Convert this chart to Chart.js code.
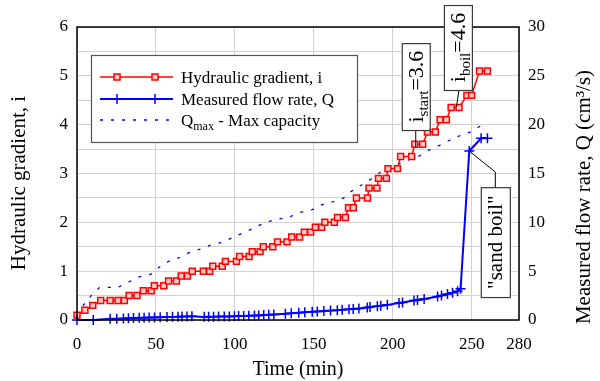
<!DOCTYPE html>
<html><head><meta charset="utf-8">
<script src="https://cdn.jsdelivr.net/npm/chart.js@4/dist/chart.umd.min.js"></script>
<style>html,body{margin:0;padding:0;background:#fff}#wrap{width:600px;height:381px;position:relative}</style>
</head><body><div id="wrap"><canvas id="c"></canvas></div>
<script>
// ---- data ----
const xTicks = [0, 50, 100, 150, 200, 250, 280];

const gradTime  = [0,5,10,15,21,26,30,33,38,42,47,49,55,58,63,66,70,73,80,84,86,92,94,101,103,109,111,116,118,124,127,133,136,141,144,148,151,155,157,163,165,170,172,175,177,184,185,190,191,196,197,203,205,212,214,219,222,227,230,234,237,242,247,250,255,260];
const gradValue = [0.1,0.2,0.3,0.4,0.4,0.4,0.4,0.5,0.5,0.6,0.6,0.7,0.7,0.8,0.8,0.9,0.9,1.0,1.0,1.0,1.1,1.1,1.2,1.2,1.3,1.3,1.4,1.4,1.5,1.5,1.6,1.6,1.7,1.7,1.8,1.8,1.9,1.9,2.0,2.0,2.1,2.1,2.3,2.3,2.5,2.5,2.7,2.7,2.9,2.9,3.1,3.1,3.35,3.35,3.6,3.6,3.85,3.85,4.1,4.1,4.35,4.35,4.6,4.6,5.1,5.1];

const flowTime  = [0,10.3,21,25.2,29.4,32.6,35.8,39.4,42.5,45.7,49.1,52.7,57,60.5,64,66.5,69.7,72.8,80.6,83.4,86.5,89.7,93.3,96.5,99.7,102.4,105.6,108.8,112.4,115.1,118.3,121.5,124.7,132,135.7,140.5,144.3,149,152.2,156.4,160.6,164.9,168,172.3,175,178.6,183.9,185.6,190.3,192.4,196.6,204,206.2,213.5,215.7,219.9,228.4,230.9,234.7,237.9,241.1,243,248.5,256,260];
const flowValue = [0,0,0.12,0.14,0.16,0.18,0.2,0.22,0.23,0.25,0.26,0.28,0.3,0.32,0.34,0.35,0.37,0.38,0.32,0.33,0.34,0.35,0.36,0.37,0.38,0.4,0.41,0.43,0.45,0.47,0.5,0.53,0.56,0.65,0.7,0.75,0.8,0.85,0.88,0.92,0.96,1.0,1.04,1.1,1.13,1.18,1.28,1.32,1.42,1.46,1.55,1.75,1.8,2.0,2.05,2.15,2.4,2.5,2.65,2.8,2.95,3.2,17.3,18.6,18.6];

const qmaxTime  = [0,3,9,14,18,26,33,39,47,52,58,65,71,79,85,92,98,105,112,118,126,134,141,149,155,162,169,174,180,186,191,197,204,210,217,223,230,236,243,250,258];
const qmaxValue = [0.5,1.3,2.5,3.3,3.35,3.35,3.9,4.4,4.7,5.4,6.0,6.4,6.9,7.3,7.7,7.95,8.4,8.9,9.4,9.9,10.3,10.5,11.0,11.3,11.8,12.1,12.5,13.2,13.8,14.4,15.0,15.5,16.0,16.4,16.8,17.4,17.9,18.4,18.9,19.3,20.1];

const seriesLabels = ['Hydraulic gradient, i', 'Measured flow rate, Q', 'Qmax - Max capacity'];

// ---- chart ----
const FONT = '"Liberation Serif","Times New Roman",serif';
const RED = '#ff0000', BLUE = '#0000ff';
const pts = (xs, ys) => xs.map((x, i) => ({x, y: ys[i]}));

function drawRich(ctx, parts, x, y, size, align) {
  const subSize = Math.round(size * 0.7);
  let w = 0;
  parts.forEach(p => { ctx.font = (p[1] ? subSize : size) + 'px ' + FONT; w += ctx.measureText(p[0]).width; });
  let cx = align === 'center' ? x - w / 2 : x;
  ctx.textAlign = 'left'; ctx.textBaseline = 'alphabetic';
  parts.forEach(p => {
    ctx.font = (p[1] ? subSize : size) + 'px ' + FONT;
    ctx.fillText(p[0], cx, p[1] ? y + size * 0.22 : y);
    cx += ctx.measureText(p[0]).width;
  });
}

function drawCross(ctx, x, y, r) {
  ctx.beginPath(); ctx.moveTo(x, y - r); ctx.lineTo(x, y + r); ctx.moveTo(x - r, y); ctx.lineTo(x + r, y); ctx.stroke();
}

function boxRect(ctx, x0, y0, x1, y1) {
  ctx.fillStyle = '#fff'; ctx.fillRect(x0, y0, x1 - x0, y1 - y0);
  ctx.strokeStyle = '#3a3a3a'; ctx.lineWidth = 1.2; ctx.strokeRect(x0 + 0.5, y0 + 0.5, x1 - x0, y1 - y0);
}

function rotatedRich(ctx, parts, cx, cy, size) {
  ctx.save(); ctx.translate(cx, cy); ctx.rotate(-Math.PI / 2);
  ctx.fillStyle = '#000';
  drawRich(ctx, parts, 0, size * 0.33, size, 'center');
  ctx.restore();
}

const overlay = {
  id: 'overlay',
  afterDraw(chart) {
    const ctx = chart.ctx, a = chart.chartArea;
    const xs = chart.scales.x, ys = chart.scales.y, y2 = chart.scales.y2;
    ctx.save();
    ctx.strokeStyle = '#000'; ctx.lineWidth = 1.5;
    ctx.strokeRect(a.left, a.top, a.right - a.left, a.bottom - a.top);

    // legend box
    const lx = a.left + 14, ly = a.top + 28, lw = 266, lh = 87;
    ctx.fillStyle = '#fff'; ctx.fillRect(lx, ly, lw, lh);
    ctx.strokeStyle = '#555'; ctx.lineWidth = 1.2; ctx.strokeRect(lx + 0.5, ly + 0.5, lw, lh);
    const rows = [ly + 22, ly + 44, ly + 65];
    const s0 = lx + 9, s1 = lx + 82, m0 = lx + 26, m1 = lx + 64, tx = lx + 90;
    ctx.strokeStyle = RED; ctx.lineWidth = 1.5;
    ctx.beginPath(); ctx.moveTo(s0, rows[0]); ctx.lineTo(s1, rows[0]); ctx.stroke();
    [m0, m1].forEach(m => { ctx.fillStyle = '#ffc8c8'; ctx.fillRect(m - 3, rows[0] - 3, 6, 6); ctx.strokeRect(m - 3, rows[0] - 3, 6, 6); });
    ctx.strokeStyle = BLUE; ctx.lineWidth = 2;
    ctx.beginPath(); ctx.moveTo(s0, rows[1]); ctx.lineTo(s1, rows[1]); ctx.stroke();
    ctx.lineWidth = 1.5; [m0, m1].forEach(m => drawCross(ctx, m, rows[1], 5));
    ctx.setLineDash([3, 8]); ctx.lineWidth = 1.3;
    ctx.beginPath(); ctx.moveTo(s0, rows[2]); ctx.lineTo(s1, rows[2]); ctx.stroke();
    ctx.setLineDash([]);
    ctx.fillStyle = '#000';
    drawRich(ctx, [[seriesLabels[0], false]], tx, rows[0] + 6, 17, 'left');
    drawRich(ctx, [[seriesLabels[1], false]], tx, rows[1] + 6, 17, 'left');
    drawRich(ctx, [['Q', false], ['max', true], [' - Max capacity', false]], tx, rows[2] + 6, 17, 'left');

    // i_start annotation
    const sx = xs.getPixelForValue(214.6);
    const sTop = ys.getPixelForValue(5.67), sBot = ys.getPixelForValue(3.89), sTip = ys.getPixelForValue(3.54);
    ctx.strokeStyle = '#000'; ctx.lineWidth = 1;
    ctx.beginPath(); ctx.moveTo(sx, sBot); ctx.lineTo(sx, sTip); ctx.stroke();
    boxRect(ctx, sx - 14, sTop, sx + 14, sBot);
    rotatedRich(ctx, [['i', false], ['start', true], ['=3.6', false]], sx, (sTop + sBot) / 2, 22);

    // i_boil annotation
    const bx = xs.getPixelForValue(241.3);
    const bTop = ys.getPixelForValue(6.45), bBot = ys.getPixelForValue(4.71);
    const tipX = xs.getPixelForValue(240.4), tipY = ys.getPixelForValue(4.36);
    ctx.strokeStyle = '#000'; ctx.lineWidth = 1;
    ctx.beginPath(); ctx.moveTo(bx + 1, bBot); ctx.lineTo(tipX, tipY); ctx.stroke();
    boxRect(ctx, bx - 14, bTop, bx + 14, bBot);
    rotatedRich(ctx, [['i', false], ['boil', true], ['=4.6', false]], bx, (bTop + bBot) / 2, 22);

    // "sand boil" annotation
    const qx = xs.getPixelForValue(265);
    const qTop = y2.getPixelForValue(13.6), qBot = y2.getPixelForValue(2.35), qElbow = y2.getPixelForValue(15.15);
    const px = xs.getPixelForValue(248.5), py = y2.getPixelForValue(17.3);
    ctx.strokeStyle = '#000'; ctx.lineWidth = 1;
    ctx.beginPath(); ctx.moveTo(qx, qTop); ctx.lineTo(qx, qElbow); ctx.lineTo(px, py); ctx.stroke();
    boxRect(ctx, qx - 14.5, qTop, qx + 14.5, qBot);
    rotatedRich(ctx, [['"sand boil"', false]], qx, (qTop + qBot) / 2, 21);

    // axis titles
    ctx.fillStyle = '#000';
    rotatedRich(ctx, [['Hydraulic gradient, i', false]], 18, 183, 21);
    rotatedRich(ctx, [['Measured flow rate, Q (cm³/s)', false]], 583, 197, 21);
    drawRich(ctx, [['Time (min)', false]], (a.left + a.right) / 2, 375, 20, 'center');
    ctx.restore();
  }
};

new Chart(document.getElementById('c'), {
  type: 'line',
  data: {
    datasets: [
      { label: seriesLabels[1], data: pts(flowTime, flowValue), yAxisID: 'y2',
        borderColor: BLUE, borderWidth: 2, pointStyle: 'cross', pointRadius: 5,
        pointBorderColor: BLUE, pointBorderWidth: 1.5, clip: false },
      { label: seriesLabels[0], data: pts(gradTime, gradValue), yAxisID: 'y',
        borderColor: RED, borderWidth: 1.5, pointStyle: 'rect', pointRadius: 4.2,
        pointBackgroundColor: '#ffc8c8', pointBorderColor: RED, pointBorderWidth: 1.5, clip: false },
      { label: seriesLabels[2], data: pts(qmaxTime, qmaxValue), yAxisID: 'y2',
        borderColor: BLUE, borderWidth: 1.3, borderDash: [3, 8], pointRadius: 0, clip: false }
    ]
  },
  options: {
    responsive: true, maintainAspectRatio: false, animation: false, devicePixelRatio: 1,
    layout: { padding: { top: 27, left: 0, right: 0, bottom: 0 } },
    plugins: { legend: { display: false }, tooltip: { enabled: false } },
    scales: {
      x: { type: 'linear', min: 0, max: 280,
        afterBuildTicks: s => { s.ticks = xTicks.map(v => ({ value: v })); },
        afterFit: s => { s.height = 61; },
        grid: { color: '#d2d2d2', lineWidth: 1, drawTicks: false },
        border: { display: false },
        ticks: { color: '#000', font: { family: FONT, size: 17 }, padding: 14, maxRotation: 0, autoSkip: false } },
      y: { position: 'left', min: 0, max: 6,
        afterFit: s => { s.width = 77; },
        grid: { color: '#d2d2d2', lineWidth: 1, drawTicks: false },
        border: { display: false },
        ticks: { stepSize: 0.5, autoSkip: false, color: '#000', font: { family: FONT, size: 17 }, padding: 9,
          callback: v => Number.isInteger(v) ? String(v) : '' } },
      y2: { position: 'right', min: 0, max: 30,
        afterFit: s => { s.width = 81; },
        grid: { display: false, drawTicks: false },
        border: { display: false },
        ticks: { stepSize: 5, autoSkip: false, color: '#000', font: { family: FONT, size: 17 }, padding: 9 } }
    }
  },
  plugins: [overlay]
});
</script>
</body></html>
